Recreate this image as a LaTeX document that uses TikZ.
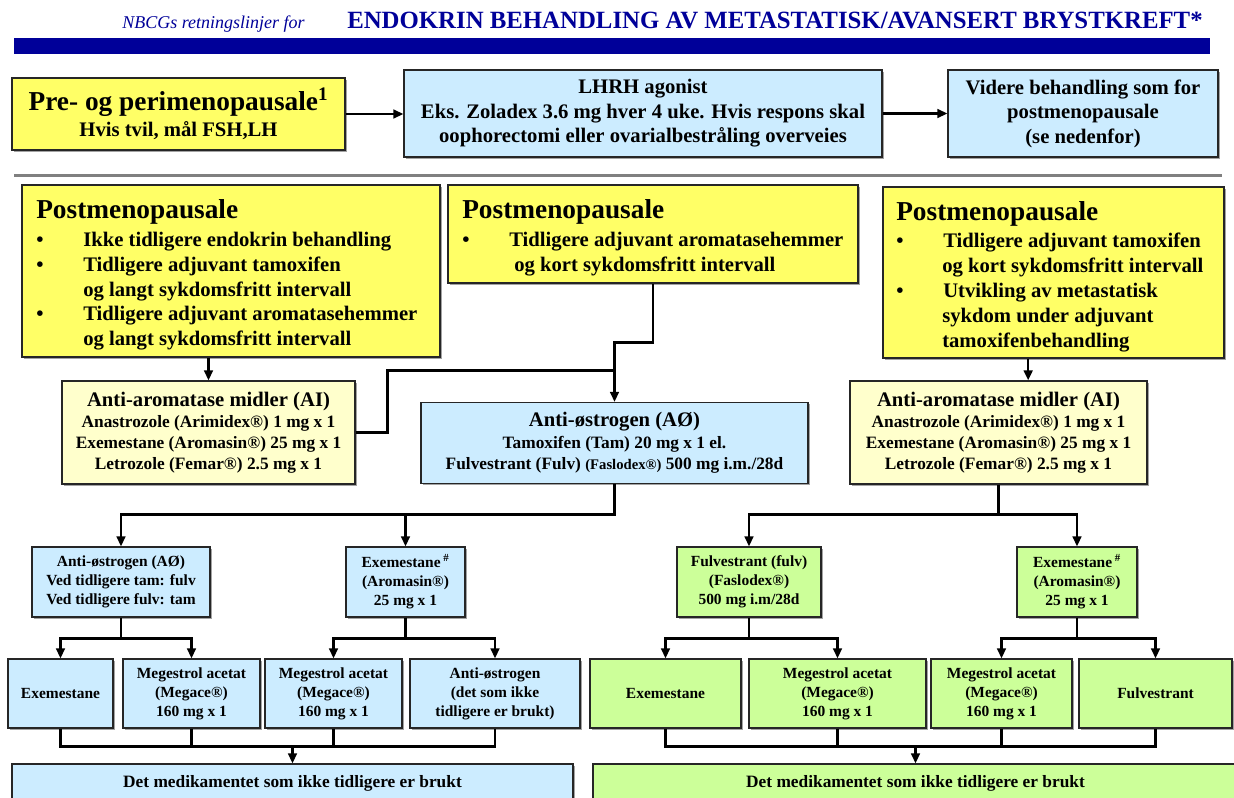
\documentclass[tikz,border=0pt]{standalone}
\usepackage{fontspec}
\setmainfont{Liberation Serif}
\usetikzlibrary{arrows.meta,calc,shadows}
\definecolor{navyblue}{RGB}{0,0,153}
\definecolor{boxyellow}{RGB}{255,255,102}
\definecolor{aiyellow}{RGB}{255,255,204}
\definecolor{boxblue}{RGB}{204,236,255}
\definecolor{boxgreen}{RGB}{204,255,153}
\newcommand{\szhdr}{\fontsize{13.5}{16}\selectfont}
\newcommand{\sztitle}{\fontsize{18.6}{21}\selectfont}
\newcommand{\szhead}{\fontsize{20.5}{24}\selectfont}
\newcommand{\szbig}{\fontsize{15.5}{18.4}\selectfont}
\newcommand{\szmed}{\fontsize{13}{15.75}\selectfont}
\newcommand{\szsmall}{\fontsize{11.6}{14.25}\selectfont}
\newcommand{\szfine}{\fontsize{11}{12}\selectfont}
\newcommand{\bul}{\makebox[35.25pt][l]{\textbullet}}
\tikzset{
  box/.style={draw=black!85, line width=0.9pt, inner sep=0pt, align=center,
    font=\bfseries\szbig,
    drop shadow={shadow xshift=1.2pt, shadow yshift=-1.2pt, fill=black!60, opacity=0.6}},
  yellowbox/.style={box, fill=boxyellow},
  aibox/.style={box, fill=aiyellow, font=\bfseries\szmed},
  bluebox/.style={box, fill=boxblue},
  greenbox/.style={box, fill=boxgreen},
  txt/.style={anchor=base west, inner sep=0pt, font=\bfseries\szbig},
  hd/.style={txt, font=\bfseries\szhead},
  conn/.style={line width=1.8pt},
  connarr/.style={conn, -{Triangle[length=7.5pt,width=6.5pt]}}
}
\begin{document}
\begin{tikzpicture}[x=0.75pt,y=-0.75pt]
\useasboundingbox (0,0) rectangle (1234,797);
% overskrift
\node[anchor=base west, inner sep=0pt, font=\itshape\szhdr, text=navyblue] (hdrsub) at (122,28) {NBCGs retningslinjer for};
\node[anchor=base west, inner sep=0pt, font=\bfseries\sztitle, text=navyblue] (hdrtitle) at (347,28) {ENDOKRIN BEHANDLING AV METASTATISK/AVANSERT BRYSTKREFT*};
\fill[navyblue] (14,38) rectangle (1210,54);

\node[yellowbox, minimum width=249.75pt, minimum height=54pt] (pre) at (178.5,114) {{\szhead Pre- og perimenopausale\textsuperscript{1}}\\[1pt]Hvis tvil, mål FSH,LH};
\node[bluebox, minimum width=358.5pt, minimum height=65.25pt] (lhrh) at (643,113.5) {LHRH agonist\\Eks. Zoladex 3.6 mg hver 4 uke. Hvis respons skal\\oophorectomi eller ovarialbestråling overveies};
\node[bluebox, minimum width=202.5pt, minimum height=65.25pt] (videre) at (1083,113.5) {Videre behandling som for\\postmenopausale\\(se nedenfor)};
\draw[connarr] (pre.east) -- (pre.east -| lhrh.west);
\draw[connarr] (lhrh.east) -- (lhrh.east -| videre.west);

\draw[gray, line width=2.25pt] (14,175) -- (1222,175);

\node[yellowbox, minimum width=313.5pt, minimum height=129pt] (post1) at (231,271) {};
\node[yellowbox, minimum width=307.5pt, minimum height=73.5pt] (post2) at (653,234) {};
\node[yellowbox, minimum width=255.75pt, minimum height=128.25pt] (post3) at (1053.5,272.5) {};

\node[hd] (p1h) at (36,218) {Postmenopausale};
\node[txt] (p1a) at (36,246) {\bul Ikke tidligere endokrin behandling};
\node[txt] (p1b) at (36,271) {\bul Tidligere adjuvant tamoxifen};
\node[txt] (p1c) at (83,296) {og langt sykdomsfritt intervall};
\node[txt] (p1d) at (36,320) {\bul Tidligere adjuvant aromatasehemmer};
\node[txt] (p1e) at (83,345) {og langt sykdomsfritt intervall};

\node[hd] (p2h) at (462,218) {Postmenopausale};
\node[txt] (p2a) at (462,246) {\bul Tidligere adjuvant aromatasehemmer};
\node[txt] (p2b) at (514,271) {og kort sykdomsfritt intervall};

\node[hd] (p3h) at (896,220) {Postmenopausale};
\node[txt] (p3a) at (896,247) {\bul Tidligere adjuvant tamoxifen};
\node[txt] (p3b) at (942,272) {og kort sykdomsfritt intervall};
\node[txt] (p3c) at (896,297) {\bul Utvikling av metastatisk};
\node[txt] (p3d) at (942,322) {sykdom under adjuvant};
\node[txt] (p3e) at (942,347) {tamoxifenbehandling};

\node[aibox, minimum width=219.75pt, minimum height=77.25pt] (ai1) at (208.5,432.5) {{\szbig Anti-aromatase midler (AI)}\\Anastrozole (Arimidex®) 1 mg x 1\\Exemestane (Aromasin®) 25 mg x 1\\Letrozole (Femar®) 2.5 mg x 1};
\node[aibox, minimum width=222.75pt, minimum height=77.25pt] (ai2) at (998.5,432.5) {{\szbig Anti-aromatase midler (AI)}\\Anastrozole (Arimidex®) 1 mg x 1\\Exemestane (Aromasin®) 25 mg x 1\\Letrozole (Femar®) 2.5 mg x 1};
\node[bluebox, font=\bfseries\szmed, minimum width=290.25pt, minimum height=60.75pt] (ao) at (614.5,443) {{\szbig Anti-østrogen (AØ)}\\[1pt]Tamoxifen (Tam) 20 mg x 1 el.\\Fulvestrant (Fulv) {\szfine(Faslodex®)} 500 mg i.m./28d};

\draw[connarr] (post1.south -| ai1.north) -- (ai1.north);
\draw[connarr] ([xshift=-19pt]post3.south) -- ([xshift=-19pt]post3.south |- ai2.north);
\draw[connarr] (post2.south) -- ++(0,59) -| (ao.north);
\draw[conn] (ai1.east) -- ++(32,0) |- ($(ao.north)+(0,-31.5)$);

\node[bluebox, font=\bfseries\szsmall, minimum width=133.5pt, minimum height=52.5pt] (aos) at (121,582) {Anti-østrogen (AØ)\\Ved tidligere tam: fulv\\Ved tidligere fulv: tam};
\node[bluebox, font=\bfseries\szsmall, minimum width=89.25pt, minimum height=52.5pt] (exe1) at (405.5,582) {Exemestane\,\textsuperscript{\#}\\(Aromasin®)\\25 mg x 1};
\node[greenbox, font=\bfseries\szsmall, minimum width=108pt, minimum height=52.5pt] (fulv) at (749,582) {Fulvestrant (fulv)\\(Faslodex®)\\500 mg i.m/28d};
\node[greenbox, font=\bfseries\szsmall, minimum width=90pt, minimum height=52.5pt] (exe2) at (1077,582) {Exemestane\,\textsuperscript{\#}\\(Aromasin®)\\25 mg x 1};

\draw[connarr] (ao.south) -- ++(0,30.5) -| (aos.north);
\draw[connarr] (ao.south) -- ++(0,30.5) -| (exe1.north);
\draw[connarr] (ai2.south) -- ++(0,30) -| (fulv.north);
\draw[connarr] (ai2.south) -- ++(0,30) -| (exe2.north);

\node[bluebox, font=\bfseries\szsmall, minimum width=78.75pt, minimum height=51.75pt] (l1) at (60.5,693.5) {Exemestane};
\node[bluebox, font=\bfseries\szsmall, minimum width=102.75pt, minimum height=51.75pt] (l2) at (191.5,693.5) {Megestrol acetat\\(Megace®)\\160 mg x 1};
\node[bluebox, font=\bfseries\szsmall, minimum width=102.75pt, minimum height=51.75pt] (l3) at (333.5,693.5) {Megestrol acetat\\(Megace®)\\160 mg x 1};
\node[bluebox, font=\bfseries\szsmall, minimum width=127.5pt, minimum height=51.75pt] (l4) at (495,693.5) {Anti-østrogen\\(det som ikke\\tidligere er brukt)};
\node[greenbox, font=\bfseries\szsmall, minimum width=113.25pt, minimum height=51.75pt] (r1) at (665.5,693.5) {Exemestane};
\node[greenbox, font=\bfseries\szsmall, minimum width=132.75pt, minimum height=51.75pt] (r2) at (837.5,693.5) {Megestrol acetat\\(Megace®)\\160 mg x 1};
\node[greenbox, font=\bfseries\szsmall, minimum width=105.75pt, minimum height=51.75pt] (r3) at (1001.5,693.5) {Megestrol acetat\\(Megace®)\\160 mg x 1};
\node[greenbox, font=\bfseries\szsmall, minimum width=114.75pt, minimum height=51.75pt] (r4) at (1155.5,693.5) {Fulvestrant};

\foreach \a/\b/\c in {aos/l1/l2, exe1/l3/l4, fulv/r1/r2, exe2/r3/r4} {
  \draw[connarr] (\a.south) -- ++(0,21) -| (\b.north);
  \draw[connarr] (\a.south) -- ++(0,21) -| (\c.north);
}

\node[bluebox, font=\bfseries\szmed, minimum width=420.75pt, minimum height=28.5pt] (botl) at (292.5,783) {Det medikamentet som ikke tidligere er brukt};
\node[greenbox, font=\bfseries\szmed, minimum width=483.75pt, minimum height=28.5pt] (botr) at (915.5,783) {Det medikamentet som ikke tidligere er brukt};

\draw[conn] (l1.south) -- ++(0,18) -| (l4.south);
\draw[conn] (l2.south) -- ++(0,18);
\draw[conn] (l3.south) -- ++(0,18);
\draw[connarr] ($(botl.north)+(0,-18)$) -- (botl.north);
\draw[conn] (r1.south) -- ++(0,18) -| (r4.south);
\draw[conn] (r2.south) -- ++(0,18);
\draw[conn] (r3.south) -- ++(0,18);
\draw[connarr] ($(botr.north)+(0,-18)$) -- (botr.north);
\end{tikzpicture}
\end{document}
